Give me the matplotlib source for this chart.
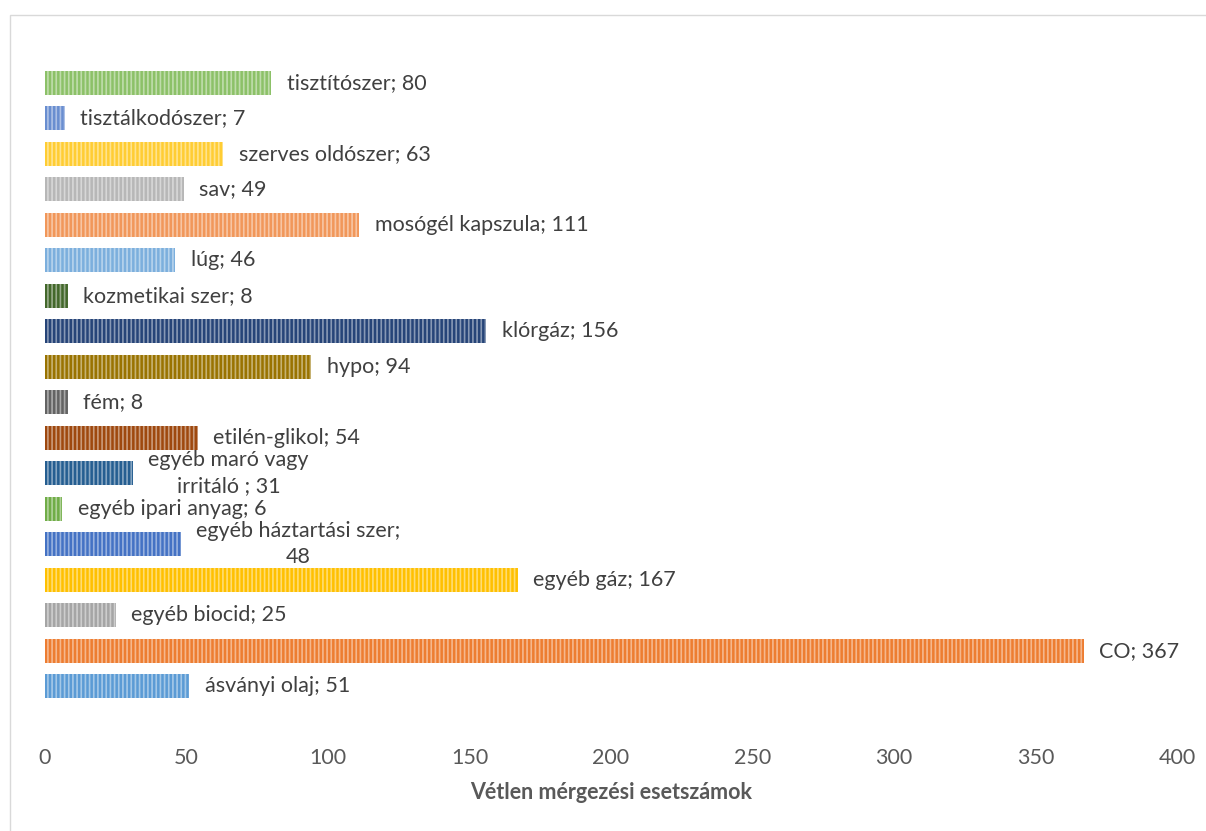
import numpy as np
import matplotlib.pyplot as plt
from matplotlib.patches import Rectangle

plt.rcParams['font.family'] = ['Lato', 'DejaVu Sans']

# data, bottom to top
categories = ['ásványi olaj', 'CO', 'egyéb biocid', 'egyéb gáz',
              'egyéb háztartási szer;\n48', 'egyéb ipari anyag',
              'egyéb maró vagy\nirritáló ', 'etilén-glikol', 'fém', 'hypo',
              'klórgáz', 'kozmetikai szer', 'lúg', 'mosógél kapszula', 'sav',
              'szerves oldószer', 'tisztálkodószer', 'tisztítószer']
values = [51, 367, 25, 167, 48, 6, 31, 54, 8, 94, 156, 8, 46, 111, 49, 63, 7, 80]
colors = ['#5B9BD5', '#ED7D31', '#A5A5A5', '#FFC000', '#4472C4', '#70AD47',
          '#255E91', '#9E480E', '#636363', '#997300', '#264478', '#43682B',
          '#7CAFDD', '#F1975A', '#B7B7B7', '#FFCD33', '#698ED0', '#8CC168']

fig = plt.figure(figsize=(12.06, 8.31), dpi=100)
W, H = 1206, 831
ax = fig.add_axes([45 / W, 1 - 704 / H, (1177 - 45) / W, (704 - 65) / H])

y = np.arange(len(values))
ax.barh(y, values, height=0.68, color=colors, linewidth=0)
# striped overlay
plt.rcParams['hatch.linewidth'] = 1.2
ax.barh(y, values, height=0.68, color='none', edgecolor=(1, 1, 1, 0.45),
        hatch='||||', linewidth=0)

fs = 15.5
for yi, v, c in zip(y, values, categories):
    if '\n' in c:
        txt = c if c.endswith('48') else f'{c}; {v}'
        ax.text(v + 5.5, yi, txt, va='center', ha='left', multialignment='center',
                fontsize=fs, color='#404040', linespacing=1.35)
    else:
        ax.text(v + 5.5, yi, f'{c}; {v}', va='center', ha='left',
                fontsize=fs, color='#404040')

ax.set_xlim(0, 400)
ax.set_ylim(-0.5, len(values) - 0.5)
ax.set_xticks(range(0, 401, 50))
ax.set_yticks([])
ax.tick_params(axis='x', length=0, pad=32, labelsize=fs, labelcolor='#595959')
for s in ax.spines.values():
    s.set_visible(False)
ax.set_xlabel('Vétlen mérgezési esetszámok', fontsize=fs, fontweight='bold',
              color='#595959', labelpad=10)

fig.patches.append(Rectangle((10 / W, -0.1), 1.2, 1 - 15 / H + 0.1,
                             transform=fig.transFigure, fill=False,
                             edgecolor='#D9D9D9', linewidth=1))

fig.savefig('out.png', dpi=100)
